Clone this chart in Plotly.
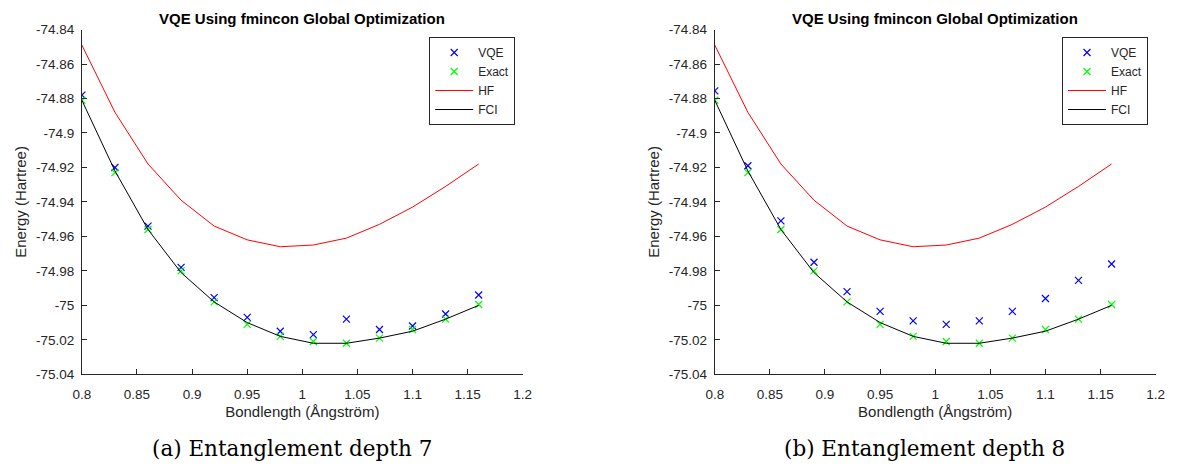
import plotly.graph_objects as go

bond = [0.80, 0.83, 0.86, 0.89, 0.92, 0.95, 0.98, 1.01, 1.04, 1.07, 1.10, 1.13, 1.16]
hf = [-74.849, -74.888, -74.918, -74.939, -74.954, -74.962, -74.966, -74.965, -74.961, -74.953, -74.943, -74.931, -74.918]
fci = [-74.881, -74.922, -74.956, -74.981, -74.998, -75.010, -75.018, -75.022, -75.022, -75.019, -75.015, -75.008, -75.000]
exact = [-74.881, -74.923, -74.956, -74.980, -74.998, -75.011, -75.018, -75.021, -75.022, -75.019, -75.014, -75.008, -74.9995]
vqe_a = [-74.878, -74.920, -74.954, -74.978, -74.9955, -75.007, -75.015, -75.017, -75.008, -75.014, -75.012, -75.005, -74.994]
vqe_b = [-74.8756, -74.919, -74.951, -74.975, -74.992, -75.0035, -75.009, -75.011, -75.009, -75.0035, -74.996, -74.9855, -74.976]

xtick_vals = [0.8, 0.85, 0.9, 0.95, 1.0, 1.05, 1.1, 1.15, 1.2]
xtick_text = ["0.8", "0.85", "0.9", "0.95", "1", "1.05", "1.1", "1.15", "1.2"]
ytick_vals = [-74.84, -74.86, -74.88, -74.9, -74.92, -74.94, -74.96, -74.98, -75.0, -75.02, -75.04]
ytick_text = ["-74.84", "-74.86", "-74.88", "-74.9", "-74.92", "-74.94", "-74.96", "-74.98", "-75", "-75.02", "-75.04"]

title = "VQE Using fmincon Global Optimization"
captions = ["(a) Entanglement depth 7", "(b) Entanglement depth 8"]

W, H = 1181, 474
AX = "#262626"
FONT = "Liberation Sans, Arial, sans-serif"

fig = go.Figure()

panels = [
    dict(vqe=vqe_a, xd=[74 / W, 521.7 / W], leg="legend", lx=426.7 / W, cx=287 / W, xa="x", ya="y"),
    dict(vqe=vqe_b, xd=[716.7 / W, 1164.4 / W], leg="legend2", lx=1069.3 / W, cx=929.5 / W, xa="x2", ya="y2"),
]
ydom = [1 - 379.3 / H, 1 - 23.3 / H]

for i, p in enumerate(panels):
    fig.add_trace(go.Scatter(x=bond, y=p["vqe"], mode="markers", name="VQE",
                             marker=dict(symbol="x-thin-open", size=7, color="#0000ff",
                                         line=dict(width=1.2, color="#0000ff")),
                             xaxis=p["xa"], yaxis=p["ya"], legend=p["leg"]))
    fig.add_trace(go.Scatter(x=bond, y=exact, mode="markers", name="Exact",
                             marker=dict(symbol="x-thin-open", size=7, color="#00ff00",
                                         line=dict(width=1.2, color="#00ff00")),
                             xaxis=p["xa"], yaxis=p["ya"], legend=p["leg"]))
    fig.add_trace(go.Scatter(x=bond, y=hf, mode="lines", name="HF",
                             line=dict(color="#ff0000", width=1),
                             xaxis=p["xa"], yaxis=p["ya"], legend=p["leg"]))
    fig.add_trace(go.Scatter(x=bond, y=fci, mode="lines", name="FCI",
                             line=dict(color="#000000", width=1),
                             xaxis=p["xa"], yaxis=p["ya"], legend=p["leg"]))

    axkey = "xaxis" if i == 0 else "xaxis2"
    aykey = "yaxis" if i == 0 else "yaxis2"
    fig.layout[axkey] = dict(domain=p["xd"], range=[0.8, 1.2], anchor=p["ya"],
                             tickvals=xtick_vals, ticktext=xtick_text,
                             ticks="inside", ticklen=5, tickcolor=AX, tickwidth=1,
                             showline=True, linecolor=AX, linewidth=1, mirror=False,
                             showgrid=False, zeroline=False, ticklabelstandoff=8,
                             tickfont=dict(family=FONT, size=13.5, color=AX),
                             title=dict(text="Bondlength (Ångström)", standoff=5,
                                        font=dict(family=FONT, size=15, color=AX)))
    fig.layout[aykey] = dict(domain=ydom, range=[-75.04, -74.84], anchor=p["xa"],
                             tickvals=ytick_vals, ticktext=ytick_text,
                             ticks="inside", ticklen=5, tickcolor=AX, tickwidth=1,
                             showline=True, linecolor=AX, linewidth=1, mirror=False,
                             showgrid=False, zeroline=False, ticklabelstandoff=4,
                             tickfont=dict(family=FONT, size=13.5, color=AX),
                             title=dict(text="Energy (Hartree)", standoff=5,
                                        font=dict(family=FONT, size=15, color=AX)))

    leg = dict(x=p["lx"], y=1 - 31 / H, xanchor="left", yanchor="top",
               bgcolor="white", bordercolor=AX, borderwidth=1,
               font=dict(family=FONT, size=12, color=AX),
               tracegroupgap=0, itemwidth=38)
    fig.layout[p["leg"]] = leg

    xc = (p["xd"][0] + p["xd"][1]) / 2
    fig.add_annotation(text="<b>" + title + "</b>", x=xc, y=1 - 12 / H, xref="paper", yref="paper",
                       showarrow=False, xanchor="center", yanchor="middle",
                       font=dict(family=FONT, size=15, color="#000000"))
    fig.add_annotation(text=captions[i], x=p["cx"], y=1 - 456 / H, xref="paper", yref="paper",
                       showarrow=False, xanchor="center", yanchor="middle",
                       font=dict(family="DejaVu Serif, serif", size=21.5, color="#000000"))

fig.update_layout(width=W, height=H, margin=dict(l=0, r=0, t=0, b=0),
                  paper_bgcolor="white", plot_bgcolor="white", showlegend=True)

fig.write_html("out.html")
